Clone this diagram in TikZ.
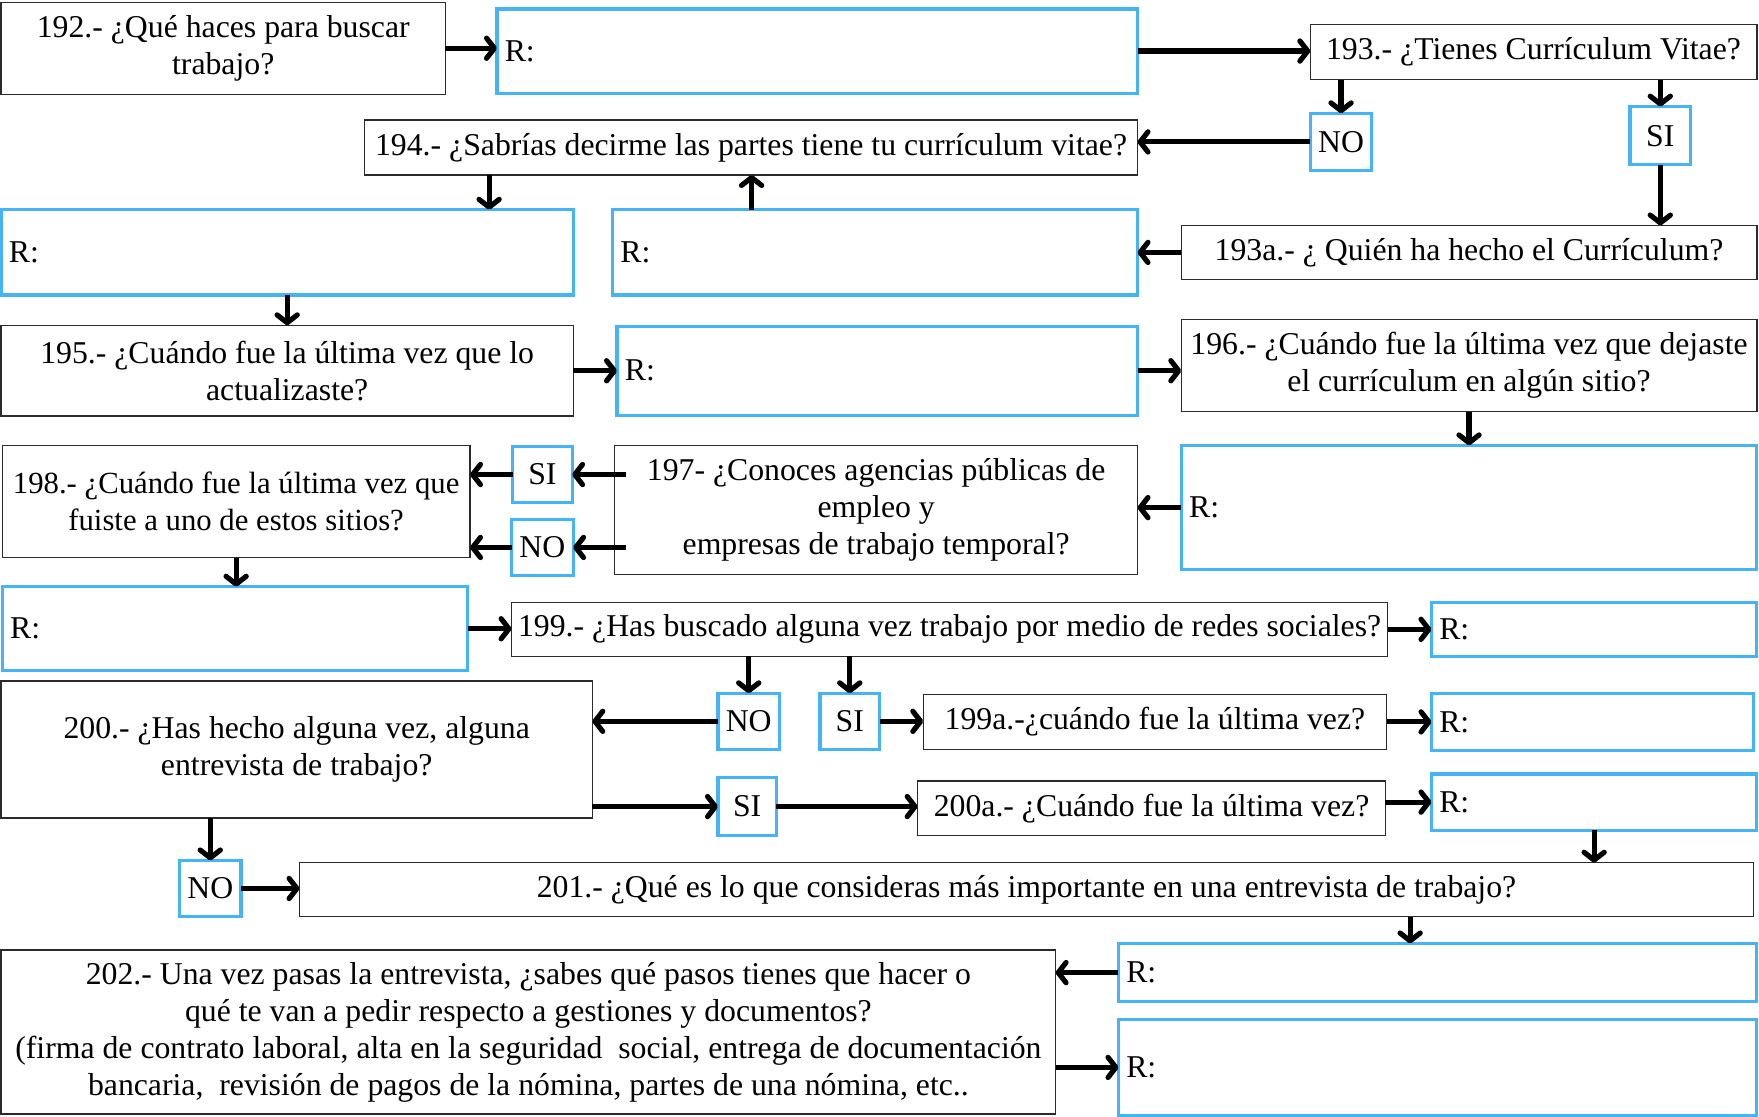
\documentclass[tikz,border=0pt]{standalone}
\usepackage{fontspec}
\setmainfont{Liberation Serif}
\usetikzlibrary{arrows.meta,calc}

\definecolor{ansblue}{HTML}{45B4F6}
\definecolor{qgray}{HTML}{2B2B2B}
\newcommand\qfont{\fontsize{28.3}{33}\selectfont}
\newcommand\qfontsmall{\fontsize{27.4}{33}\selectfont}

\tikzset{
  qbox/.style={draw=qgray, line width=1.3pt, align=center, inner sep=2pt, outer sep=0pt, font=\qfont},
  abox/.style={draw=ansblue, line width=2.8pt, align=left, inner xsep=7pt, inner ysep=2pt, outer sep=0pt, font=\qfont},
  arr/.style={line width=4.6pt, -{Straight Barb[length=7pt,width=18pt,round]}},
}

% question box: style, name, x1, y1, x2, y2, text
\newcommand\qbox[7]{%
  \pgfmathsetmacro\bw{#5-#3}\pgfmathsetmacro\bh{#6-#4}%
  \node[#1, anchor=north west, minimum width=\bw pt, minimum height=\bh pt] (#2) at (#3,#4) {#7};}
% answer box: name, x1, y1, x2, y2
\newcommand\abox[5]{%
  \pgfmathsetmacro\tw{#4-#2-14}\pgfmathsetmacro\bh{#5-#3}%
  \node[abox, anchor=north west, text width=\tw pt, minimum height=\bh pt] (#1) at (#2,#3) {R:};}

\begin{document}
\begin{tikzpicture}[x=1pt,y=-1pt]
\fill[white] (0,0) rectangle (1568,995);
\useasboundingbox (0,0) rectangle (1568,995);

% first block: search and CV
\qbox{qbox}{q192}{1}{2}{397}{84}{192.- ¿Qué haces para buscar\\trabajo?}
\abox{r1}{443}{8}{1014}{83}
\qbox{qbox}{q193}{1168}{22}{1566}{71}{193.- ¿Tienes Currículum Vitae?}
\qbox{abox}{no1}{1168}{101}{1222}{152}{NO}
\qbox{abox}{si1}{1453}{95}{1507}{147}{SI}
\qbox{qbox}{q194}{325}{107}{1014}{156}{194.- ¿Sabrías decirme las partes tiene tu currículum vitae?}
\abox{r2}{1}{187}{511}{263}
\abox{r3}{546}{187}{1014}{263}
\qbox{qbox}{q193a}{1053}{201}{1566}{249}{193a.- ¿ Quién ha hecho el Currículum?}

% second block: updates and agencies
\qbox{qbox}{q195}{1}{290}{511}{371}{195.- ¿Cuándo fue la última vez que lo\\actualizaste?}
\abox{r4}{550}{291}{1014}{370}
\qbox{qbox}{q196}{1053}{285}{1566}{367}{196.- ¿Cuándo fue la última vez que dejaste\\el currículum en algún sitio?}
\abox{r5}{1053}{397}{1566}{508}
\qbox{qbox}{q197}{548}{397}{1014}{512}{197- ¿Conoces agencias públicas de\\empleo y\\empresas de trabajo temporal?}
\qbox{abox}{si2}{457}{398}{510}{448}{SI}
\qbox{abox}{no2}{456}{463}{510}{513}{NO}
\qbox{qbox,font=\qfontsmall}{q198}{2}{397}{419}{497}{198.- ¿Cuándo fue la última vez que\\fuiste a uno de estos sitios?}
\abox{r6}{2}{523}{417}{598}

% third block: social networks and interviews
\qbox{qbox}{q199}{456}{537}{1237}{585}{199.- ¿Has buscado alguna vez trabajo por medio de redes sociales?}
\abox{r7}{1276}{537}{1566}{585}
\qbox{abox}{no3}{640}{618}{692}{668}{NO}
\qbox{abox}{si3}{731}{618}{784}{668}{SI}
\qbox{qbox}{q199a}{823}{619}{1236}{668}{199a.-¿cuándo fue la última vez?}
\abox{r8}{1276}{618}{1563}{669}
\qbox{qbox}{q200}{1}{607}{528}{729}{200.- ¿Has hecho alguna vez, alguna\\entrevista de trabajo?}
\qbox{abox}{si4}{640}{693}{692}{745}{SI}
\qbox{qbox}{q200a}{818}{696}{1235}{745}{200a.- ¿Cuándo fue la última vez?}
\abox{r9}{1276}{690}{1566}{740}
\qbox{abox}{no4}{160}{767}{214}{817}{NO}
\qbox{qbox}{q201}{267}{769}{1563}{817}{201.- ¿Qué es lo que consideras más importante en una entrevista de trabajo?}
\abox{r10}{997}{841}{1566}{893}
\qbox{qbox}{q202}{1}{847}{941}{993}{202.- Una vez pasas la entrevista, ¿sabes qué pasos tienes que hacer o\\qué te van a pedir respecto a gestiones y documentos?\\(firma de contrato laboral, alta en la seguridad \ social, entrega de documentación\\bancaria, \ revisión de pagos de la nómina, partes de una nómina, etc..}
\abox{r11}{997}{909}{1566}{994}

% guide positions for off-centre connectors
\coordinate (x436) at (436,0);
\coordinate (x670) at (670,0);
\coordinate (x1257) at (1257,0);

% connectors
\draw[arr] (q192.east) -- (q192.east -| r1.west);
\draw[arr] (r1.east) -- (r1.east -| q193.west);
\draw[arr] (q193.south -| no1) -- (no1.north);
\draw[arr] (q193.south -| si1) -- (si1.north);
\draw[arr] (si1.south) -- (si1.south |- q193a.north);
\draw[arr] (no1.west) -- (no1.west -| q194.east);
\draw[arr] (q194.south -| x436) -- (r2.north -| x436);
\draw[arr] (r3.north -| x670) -- (q194.south -| x670);
\draw[arr] (q193a.west) -- (q193a.west -| r3.east);
\draw[arr] (r2.south -| q195.north) -- (q195.north);
\draw[arr] (q195.east) -- (q195.east -| r4.west);
\draw[arr] (r4.east) -- (r4.east -| q196.west);
\draw[arr] (q196.south) -- (q196.south |- r5.north);
\draw[arr] (r5.west) -- (r5.west -| q197.east);
\draw[arr] ([xshift=10pt]q197.west |- si2.east) -- (si2.east);
\draw[arr] ([xshift=10pt]q197.west |- no2.east) -- (no2.east);
\draw[arr] (si2.west) -- (si2.west -| q198.east);
\draw[arr] (no2.west) -- (no2.west -| q198.east);
\draw[arr] (q198.south) -- (q198.south |- r6.north);
\draw[arr] (r6.east) -- (r6.east -| q199.west);
\draw[arr] (q199.east) -- (q199.east -| r7.west);
\draw[arr] (q199.south -| no3) -- (no3.north);
\draw[arr] (q199.south -| si3) -- (si3.north);
\draw[arr] (no3.west) -- (no3.west -| q200.east);
\draw[arr] (si3.east) -- (si3.east -| q199a.west);
\draw[arr] (q199a.east) -- (q199a.east -| r8.west);
\draw[arr] (q200.east |- si4.west) -- (si4.west);
\draw[arr] (si4.east) -- (si4.east -| q200a.west);
\draw[arr] (q200a.east |- r9.west) -- (r9.west);
\draw[arr] (r9.south) -- (r9.south |- q201.north);
\draw[arr] (q200.south -| no4) -- (no4.north);
\draw[arr] (no4.east) -- (no4.east -| q201.west);
\draw[arr] (q201.south -| x1257) -- (r10.north -| x1257);
\draw[arr] (r10.west) -- (r10.west -| q202.east);
\draw[arr] (q202.east |- r11.west) -- (r11.west);
\end{tikzpicture}
\end{document}
